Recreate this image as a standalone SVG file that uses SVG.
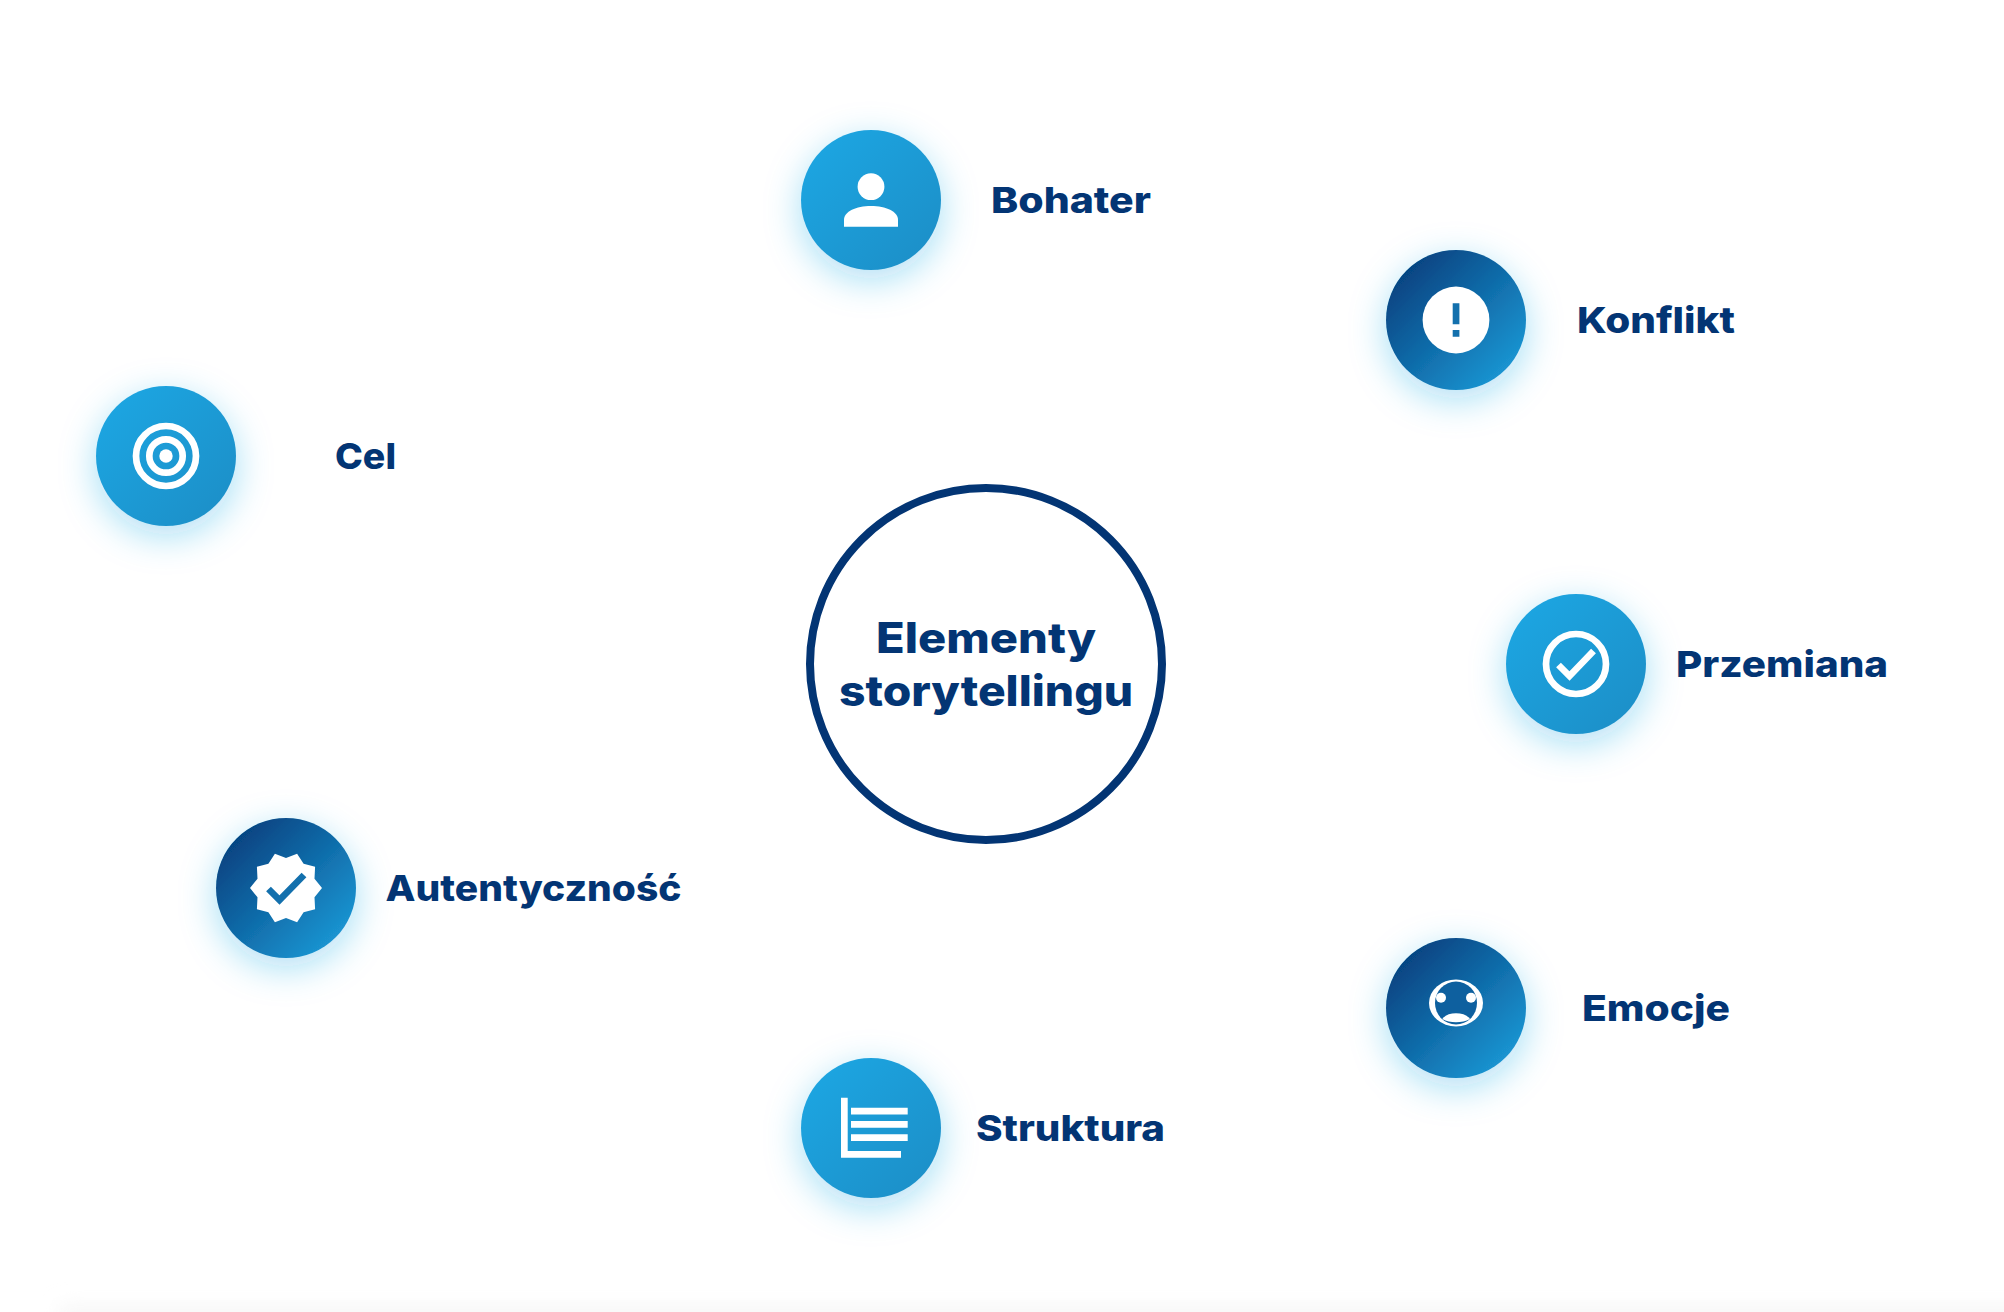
<svg xmlns="http://www.w3.org/2000/svg" width="2004" height="1312" viewBox="0 0 2004 1312">
<style>
.t{font-family:"Inter","Liberation Sans",sans-serif;font-weight:800;font-size:36px;fill:#033574}
.c{font-size:42px}
.s{filter:url(#sh)}
.w{fill:#fff}
.o{fill:none;stroke:#fff;stroke-width:6.7}
</style>
<defs>
<linearGradient id="lt" x1="0.15" y1="0.15" x2="0.85" y2="0.85"><stop offset="0" stop-color="#1fa4e0"/><stop offset="1" stop-color="#1b91ca"/></linearGradient>
<linearGradient id="dk" x1="0.15" y1="0.15" x2="0.85" y2="0.85"><stop offset="0" stop-color="#064583"/><stop offset="1" stop-color="#1a93d0"/></linearGradient>
<filter id="sh" x="-70%" y="-70%" width="240%" height="240%"><feDropShadow dx="0" dy="10" stdDeviation="18" flood-color="#21a6e3" flood-opacity="0.36"/></filter>
<filter id="soft" x="-5%" y="-100%" width="110%" height="300%"><feGaussianBlur stdDeviation="10"/></filter>
</defs>
<rect width="2004" height="1312" fill="#fff"/>
<rect x="60" y="1306" width="2000" height="30" fill="#f6f6f6" filter="url(#soft)"/>
<g id="center"><circle cx="986" cy="664" r="176" fill="#fff" stroke="#033574" stroke-width="8"/>
<text class="t c" x="986" y="652.500" text-anchor="middle" textLength="220" lengthAdjust="spacingAndGlyphs">Elementy</text>
<text class="t c" x="986" y="705.500" text-anchor="middle" textLength="294" lengthAdjust="spacingAndGlyphs">storytellingu</text></g>
<g id="connectors"></g>
<g id="bohater"><circle class="s" cx="871" cy="200" r="70" fill="url(#lt)"/>
<circle class="w" cx="871" cy="186.700" r="13.400"/><path class="w" d="M844 226.700v-7c0-8 12-13.700 27-13.700s27 5.700 27 13.700v7z"/>
<text class="t" x="991" y="213" textLength="160" lengthAdjust="spacingAndGlyphs">Bohater</text></g>
<g id="konflikt"><circle class="s" cx="1456" cy="320" r="70" fill="url(#dk)"/>
<circle class="w" cx="1456" cy="320" r="33.400"/><path fill="#1370ad" d="M1452.700 303.300h6.700v21h-6.700zM1452.700 330h6.700v6.700h-6.700z"/>
<text class="t" x="1577" y="333" textLength="158" lengthAdjust="spacingAndGlyphs">Konflikt</text></g>
<g id="cel"><circle class="s" cx="166" cy="456" r="70" fill="url(#lt)"/>
<circle class="o" cx="166" cy="456" r="30"/><circle class="o" cx="166" cy="456" r="16.700"/><circle class="w" cx="166" cy="456" r="6.700"/>
<text class="t" x="335" y="468.500" textLength="61" lengthAdjust="spacingAndGlyphs">Cel</text></g>
<g id="przemiana"><circle class="s" cx="1576" cy="664" r="70" fill="url(#lt)"/>
<circle class="o" cx="1576" cy="664" r="30"/><path class="o" d="M1558.500 665l11 11 24-25"/>
<text class="t" x="1676" y="677" textLength="212" lengthAdjust="spacingAndGlyphs">Przemiana</text></g>
<g id="autentycznosc"><circle class="s" cx="286" cy="888" r="70" fill="url(#dk)"/>
<path class="w" d="M322 888L314.500 878.700 315.100 866.800 303.600 863.700 297.100 853.800 286 858 274.900 853.800 268.400 863.700 256.900 866.800 257.500 878.700 250 888 257.500 897.300 256.900 909.200 268.400 912.300 274.900 922.200 286 918 297.100 922.200 303.600 912.300 315.100 909.200 314.500 897.300z"/>
<path fill="none" stroke="#1370ad" stroke-width="6.700" d="M268.500 889l11 11 24.500-25"/>
<text class="t" x="385.500" y="901" textLength="296" lengthAdjust="spacingAndGlyphs">Autentyczność</text></g>
<g id="emocje"><circle class="s" cx="1456" cy="1008" r="70" fill="url(#dk)"/>
<ellipse class="w" cx="1456" cy="1003" rx="27" ry="23.500"/><ellipse cx="1456" cy="1003" rx="21" ry="21.500" fill="#0e609f"/>
<path class="w" d="M1442.300 1019c3-4 8-5.700 13.700-5.700s11 1.700 14 5.700c-8 4.300-20 4.300-27.700 0z"/><circle class="w" cx="1441" cy="997.700" r="5"/><circle class="w" cx="1471" cy="997.700" r="5"/>
<text class="t" x="1582" y="1021" textLength="148" lengthAdjust="spacingAndGlyphs">Emocje</text></g>
<g id="struktura"><circle class="s" cx="871" cy="1128" r="70" fill="url(#lt)"/>
<path class="w" d="M841 1097.700h6.700v53.300h53.300v6.700h-60zM851 1107.700h56.700v6.700h-56.700zM851 1121h56.700v6.700h-56.700zM851 1134.300h56.700v6.700h-56.700z"/>
<text class="t" x="976" y="1141" textLength="189" lengthAdjust="spacingAndGlyphs">Struktura</text></g>
</svg>
